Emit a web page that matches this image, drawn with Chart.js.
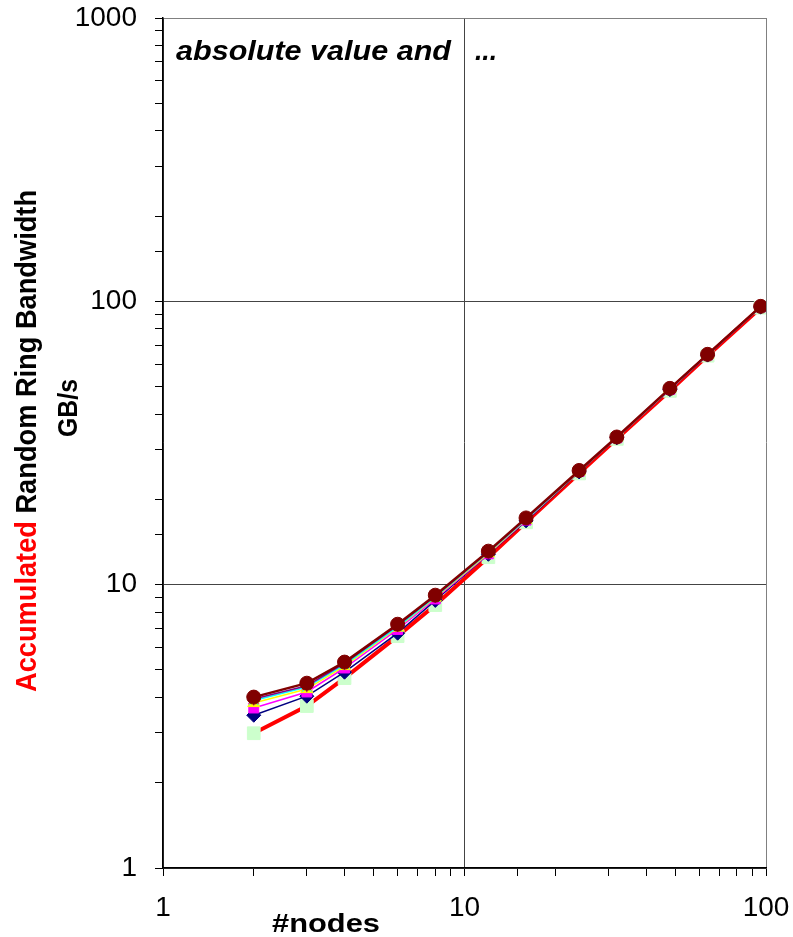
<!DOCTYPE html>
<html><head><meta charset="utf-8">
<script src="https://cdn.jsdelivr.net/npm/chart.js@4/dist/chart.umd.min.js"></script>
<style>html,body{margin:0;padding:0;background:#fff}</style>
</head><body>
<canvas id="c" width="793" height="937"></canvas>
<script>
// ---- data ----
const nodes = [2, 3, 4, 6, 8, 12, 16, 24, 32, 48, 64, 96];
const serNavy    = [3.46, 4.04, 4.91, 6.74, 8.80, 12.80, 16.80, 25.0, 33.0, 48.8, 64.6, 95.5];
const serMagenta = [3.67, 4.18, 5.08, 6.95, 8.90, 12.85, 16.90, 25.1, 33.0, 48.9, 64.7, 95.6];
const serYellow  = [3.82, 4.28, 5.16, 7.05, 9.00, 12.90, 16.95, 25.1, 33.1, 49.0, 64.8, 95.7];
const serCyan    = [3.90, 4.35, 5.22, 7.10, 9.05, 13.00, 17.00, 25.2, 33.1, 49.1, 64.9, 95.8];
const serPurple  = [3.95, 4.40, 5.28, 7.18, 9.10, 13.05, 17.10, 25.2, 33.2, 49.2, 65.0, 95.9];
const serMaroon  = [4.01, 4.49, 5.33, 7.25, 9.18, 13.13, 17.20, 25.3, 33.2, 49.3, 65.0, 96.0];
const serRed     = [2.99, 3.73, 4.68, 6.58, 8.47, 12.50, 16.60, 24.7, 32.7, 48.3, 64.3, 95.0];
const xTickLabels = [1, 10, 100];
const yTickLabels = [1, 10, 100, 1000];
const titleText = "absolute value and";
const titleDots = "...";
const yTitleRed = "Accumulated";
const yTitleBlack = " Random Ring Bandwidth";
const yTitle2 = "GB/s";
const xTitle = "#nodes";

const pts = arr => nodes.map((n, i) => ({x: n, y: arr[i]}));
const FONT = "'Liberation Sans', Arial, Helvetica, sans-serif";

function ds(label, arr, color, style, radius, lw, order, fill) {
  return {
    label, data: pts(arr), borderColor: color, backgroundColor: fill || color,
    pointBackgroundColor: fill || color, pointBorderColor: fill || color,
    pointStyle: style, pointRadius: radius, pointBorderWidth: 1,
    borderWidth: lw, showLine: true, tension: 0, order
  };
}

const isPow10 = v => Math.abs(Math.log10(v) - Math.round(Math.log10(v))) < 1e-9;

function fitText(ctx, text, x, y, w) {
  const m = ctx.measureText(text).width;
  ctx.save(); ctx.translate(x, y); ctx.scale(w / m, 1); ctx.fillText(text, 0, 0); ctx.restore();
}

const textPlugin = {
  id: 'texts',
  afterDraw(chart) {
    const ctx = chart.ctx;
    ctx.save();
    ctx.textBaseline = 'alphabetic';
    ctx.textAlign = 'left';
    ctx.fillStyle = '#000';
    // inner title
    ctx.font = "italic bold 27px " + FONT;
    fitText(ctx, titleText, 176, 60, 275);
    fitText(ctx, titleDots, 475, 60, 22);
    // x title
    ctx.font = "bold 26px " + FONT;
    fitText(ctx, xTitle, 272, 932, 108);
    // y title line 1 (rotated)
    ctx.font = "bold 29px " + FONT;
    const full = yTitleRed + yTitleBlack;
    const mw = ctx.measureText(full).width;
    const sc = 502 / mw;
    ctx.save();
    ctx.translate(36, 692);
    ctx.rotate(-Math.PI / 2);
    ctx.scale(sc, 1);
    ctx.fillStyle = '#FF0000';
    ctx.fillText(yTitleRed, 0, 0);
    ctx.fillStyle = '#000';
    ctx.fillText(yTitleBlack, ctx.measureText(yTitleRed).width, 0);
    ctx.restore();
    // y title line 2
    ctx.font = "bold 28px " + FONT;
    ctx.save();
    ctx.translate(77, 437);
    ctx.rotate(-Math.PI / 2);
    const m2 = ctx.measureText(yTitle2).width;
    ctx.scale(58 / m2, 1);
    ctx.fillStyle = '#000';
    ctx.fillText(yTitle2, 0, 0);
    ctx.restore();
    ctx.restore();
  }
};

const gridColorX = c => {
  const v = c.tick && c.tick.value;
  if (v === 100) return '#808080';
  return (v && isPow10(v)) ? '#444' : 'rgba(0,0,0,0)';
};
const gridColorY = c => {
  const v = c.tick && c.tick.value;
  if (v === 1000) return '#808080';
  return (v && isPow10(v)) ? '#444' : 'rgba(0,0,0,0)';
};

new Chart(document.getElementById('c'), {
  type: 'scatter',
  data: {
    datasets: [
      ds('Maroon', serMaroon, '#800000', 'circle', 7, 2.5, 1),
      ds('Purple', serPurple, '#800080', 'star', 6.5, 1.5, 2),
      ds('Cyan', serCyan, '#00FFFF', 'crossRot', 6.5, 1.5, 3),
      ds('Yellow', serYellow, '#FFFF00', 'triangle', 7, 1.5, 4),
      ds('Magenta', serMagenta, '#FF00FF', 'rect', 7, 1.5, 5),
      ds('Navy', serNavy, '#000080', 'rectRot', 7, 1.5, 6),
      ds('Red', serRed, '#FF0000', 'rect', 9, 4, 7, '#CCFFCC')
    ]
  },
  options: {
    responsive: false,
    animation: false,
    layout: { padding: { top: 18, right: 27, left: 0, bottom: 0 } },
    plugins: { legend: { display: false }, tooltip: { enabled: false }, title: { display: false } },
    scales: {
      x: {
        type: 'logarithmic', min: 1, max: 100, position: 'bottom',
        afterFit: s => { s.height = 69; s.paddingLeft = 0; s.paddingRight = 0; },
        border: { display: true, color: '#000', width: 1.5 },
        grid: { color: gridColorX, tickColor: '#000', tickLength: 8, lineWidth: 1 },
        ticks: {
          autoSkip: false, maxRotation: 0, padding: 15, color: '#000',
          font: { family: FONT, size: 28 },
          callback: v => xTickLabels.includes(v) ? String(v) : ''
        }
      },
      y: {
        type: 'logarithmic', min: 1, max: 1000, position: 'left',
        afterFit: s => { s.width = 163; s.paddingTop = 0; s.paddingBottom = 0; },
        border: { display: true, color: '#000', width: 1.5 },
        grid: { color: gridColorY, tickColor: '#000', tickLength: 8, lineWidth: 1 },
        ticks: {
          autoSkip: false, padding: 18, color: '#000',
          font: { family: FONT, size: 28 },
          callback: v => yTickLabels.includes(v) ? String(v) : ''
        }
      }
    }
  },
  plugins: [textPlugin]
});
</script>
</body></html>
